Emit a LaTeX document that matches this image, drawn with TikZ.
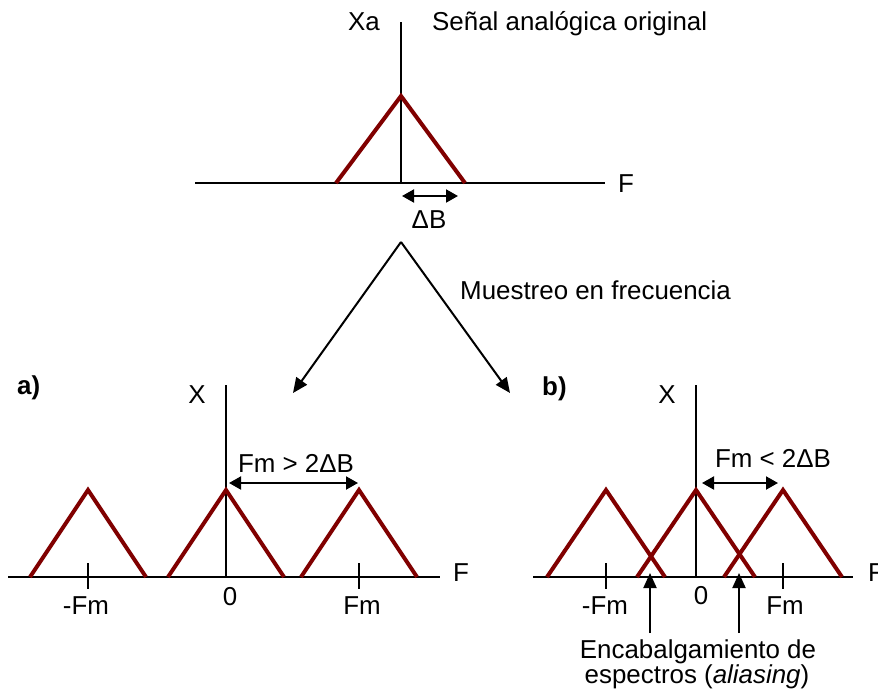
\documentclass[tikz,border=0pt]{standalone}
\usepackage{fontspec}
\setmainfont{Liberation Sans}
\usetikzlibrary{arrows.meta}
\definecolor{spec}{RGB}{128,0,0}
\begin{document}
\begin{tikzpicture}[x=1pt,y=-1pt,
  axis/.style={line width=2pt,black},
  tri/.style={line width=4pt,spec,line join=miter},
  tick/.style={line width=2pt},
  dbl/.style={line width=2pt,{Triangle[length=12pt,width=13pt]}-{Triangle[length=12pt,width=13pt]}},
  sgl/.style={line width=2pt,-{Triangle[length=15pt,width=13pt]}},
  lbl/.style={inner sep=0pt,font=\fontsize{25.9}{30}\selectfont},
  bl/.style={lbl,font=\fontsize{25.9}{30}\selectfont\bfseries}]
\useasboundingbox (0,0) rectangle (878,691);
% ---------- top plot ----------
\coordinate (tL) at (195,183); \coordinate (tR) at (605,183);
\coordinate (tO) at (401,183); \coordinate (tT) at (401,22);
\draw[axis] (tL) -- (tR);
\draw[axis] (tO) -- (tT);
\draw[tri] (336,183) -- (401,96) -- (465,183);
\node[lbl,anchor=base] (xa) at (364,30) {Xa};
\node[lbl,anchor=base west] (title) at (432,30) {Señal analógica original};
\node[lbl,anchor=base west] (ftop) at (618,192) {F};
\coordinate (db1) at (402,196); \coordinate (db2) at (458,196);
\draw[dbl] (db1) -- (db2);
\node[lbl,anchor=base] (dB) at (429,228) {ΔB};
% ---------- split arrows ----------
\coordinate (apex) at (401,242);
\coordinate (la) at (293,393); \coordinate (ra) at (510,393);
\draw[sgl] (apex) -- (la);
\draw[sgl] (apex) -- (ra);
\node[lbl,anchor=base west] (mu) at (460,299) {Muestreo en frecuencia};
% ---------- panel a ----------
\node[bl,anchor=base west] (pa) at (17,394) {a)};
\coordinate (aL) at (8,577); \coordinate (aR) at (440,577);
\coordinate (aO) at (226,577); \coordinate (aT) at (226,385);
\draw[axis] (aL) -- (aR);
\draw[axis] (aO) -- (aT);
\foreach \c in {88,226,359}{
  \draw[tri] (\c-58,577) -- (\c,490) -- (\c+58,577);}
\draw[tick] (88,563) -- (88,589);
\draw[tick] (359,563) -- (359,589);
\node[lbl,anchor=base] (xA) at (197,403) {X};
\node[lbl,anchor=base west] (fA) at (453,581) {F};
\node[lbl,anchor=base] (mfA) at (86,614) {-Fm};
\node[lbl,anchor=base] (zA) at (230,605) {0};
\node[lbl,anchor=base] (pfA) at (362,614) {Fm};
\coordinate (fa1) at (229,483); \coordinate (fa2) at (358,483);
\draw[dbl] (fa1) -- (fa2);
\node[lbl,anchor=base] (cA) at (296,472) {Fm > 2ΔB};
% ---------- panel b ----------
\node[bl,anchor=base west] (pb) at (542,395) {b)};
\coordinate (bL) at (533,577); \coordinate (bR) at (853,577);
\coordinate (bO) at (696,577); \coordinate (bT) at (696,385);
\draw[axis] (bL) -- (bR);
\draw[axis] (bO) -- (bT);
\foreach \c in {606,696,783}{
  \draw[tri] (\c-59,577) -- (\c,490) -- (\c+59,577);}
\draw[tick] (606,563) -- (606,589);
\draw[tick] (783,563) -- (783,589);
\node[lbl,anchor=base] (xB) at (667,403) {X};
\node[lbl,anchor=base west] (fB) at (868,581) {F};
\node[lbl,anchor=base] (mfB) at (605,614) {-Fm};
\node[lbl,anchor=base] (zB) at (701,604) {0};
\node[lbl,anchor=base] (pfB) at (785,614) {Fm};
\coordinate (fb1) at (702,483); \coordinate (fb2) at (778,483);
\draw[dbl] (fb1) -- (fb2);
\node[lbl,anchor=base] (cB) at (773,467) {Fm < 2ΔB};
\coordinate (al1s) at (650,633); \coordinate (al1e) at (650,573);
\coordinate (al2s) at (739,633); \coordinate (al2e) at (739,573);
\draw[sgl] (al1s) -- (al1e);
\draw[sgl] (al2s) -- (al2e);
\node[lbl,anchor=base] (enc) at (698,658) {Encabalgamiento de};
\node[lbl,anchor=base] (esp) at (697,683) {espectros (\textit{aliasing})};
\end{tikzpicture}
\end{document}
